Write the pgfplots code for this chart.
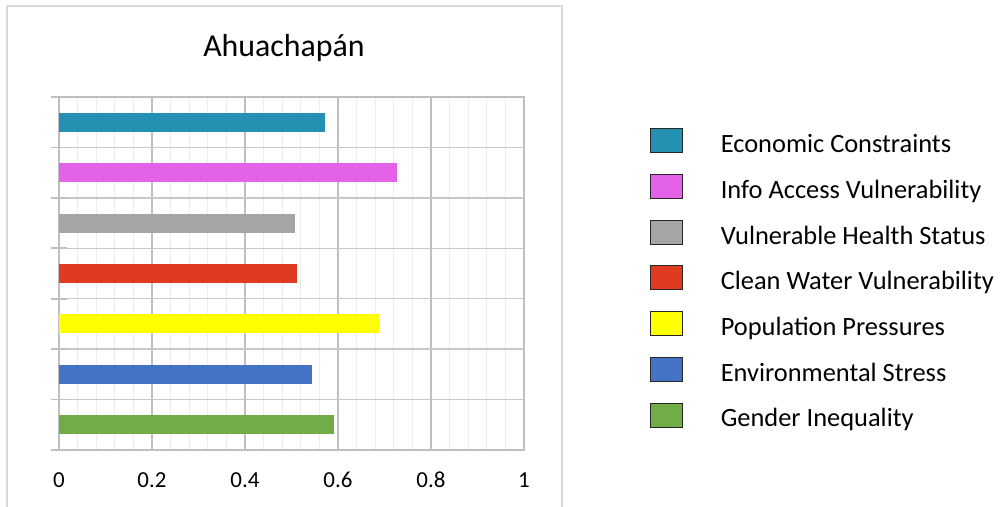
\documentclass[border=0pt]{standalone}
\usepackage{fontspec}
\setmainfont{Carlito}
\usepackage{pgfplots}
\pgfplotsset{compat=1.18}
\definecolor{cEcon}{RGB}{36,144,178}
\definecolor{cInfo}{RGB}{228,98,232}
\definecolor{cHealth}{RGB}{165,165,165}
\definecolor{cWater}{RGB}{222,59,33}
\definecolor{cPop}{RGB}{255,255,0}
\definecolor{cEnv}{RGB}{68,114,196}
\definecolor{cGender}{RGB}{112,173,71}
\definecolor{gridmaj}{RGB}{191,191,191}
\definecolor{gridh}{RGB}{200,200,200}
\definecolor{gridmin}{RGB}{236,236,236}
\definecolor{framegray}{RGB}{217,217,217}
\pgfplotsset{myleg/.style={legend image code/.code={\draw[##1,draw=black!85,line width=0.8bp] (0bp,-12bp) rectangle (32bp,12bp);}}}
\begin{document}
\begin{tikzpicture}
\useasboundingbox (0bp,0bp) rectangle (1001bp,507bp);
\draw[framegray, line width=1.3bp] (7bp,0bp) -- (7bp,501bp) -- (562bp,501bp) -- (562bp,0bp);
\node[font=\fontsize{32}{38}\selectfont, anchor=base, inner sep=0pt] at (284bp,450.3bp) {Ahuachapán};
\begin{axis}[
  at={(59bp,57bp)}, anchor=south west,
  scale only axis, width=465bp, height=353bp,
  xbar, bar width=19bp, bar shift=0pt,
  xmin=0, xmax=1, ymin=-0.5, ymax=6.5,
  xtick={0,0.2,0.4,0.6,0.8,1},
  minor x tick num=4,
  ytick={-0.5,0.5,1.5,2.5,3.5,4.5,5.5,6.5},
  yticklabels={},
  ytick pos=left,
  xmajorgrids, xminorgrids, ymajorgrids,
  major x grid style={draw=gridmaj, line width=1.6bp},
  minor x grid style={draw=gridmin, line width=1.1bp},
  major y grid style={draw=gridh, line width=1.5bp},
  axis line style={draw=gridmaj, line width=1.5bp},
  x tick style={draw=none},
  minor x tick style={draw=none},
  y tick style={draw=gridmaj, line width=1.6bp},
  tick align=center, major tick length=15bp,
  /pgf/number format/assume math mode=true,
  xticklabel style={font=\fontsize{23}{27}\selectfont, inner sep=0pt, text height=14.5bp, text depth=0pt, anchor=north, yshift=-15.5bp},
  reverse legend,
  legend cell align=left,
  legend style={at={(1.271,0.9113)}, anchor=north west, draw=none, fill=none,
    inner sep=0pt, outer sep=0pt, row sep=20.9bp, column sep=38bp,
    font=\fontsize{26.5}{30}\selectfont,
    nodes={inner sep=0pt, text height=24bp, text depth=0pt, anchor=west}},
]
\addplot[xbar, bar shift=0pt, fill=cGender, draw=none, myleg] coordinates {(0.592,0)};
\addlegendentry{Gender Inequality}
\addplot[xbar, bar shift=0pt, fill=cEnv, draw=none, myleg] coordinates {(0.545,1)};
\addlegendentry{Environmental Stress}
\addplot[xbar, bar shift=0pt, fill=cPop, draw=none, myleg] coordinates {(0.689,2)};
\addlegendentry{Population Pressures}
\addplot[xbar, bar shift=0pt, fill=cWater, draw=none, myleg] coordinates {(0.512,3)};
\addlegendentry{Clean Water Vulnerability}
\addplot[xbar, bar shift=0pt, fill=cHealth, draw=none, myleg] coordinates {(0.508,4)};
\addlegendentry{Vulnerable Health Status}
\addplot[xbar, bar shift=0pt, fill=cInfo, draw=none, myleg] coordinates {(0.727,5)};
\addlegendentry{Info Access Vulnerability}
\addplot[xbar, bar shift=0pt, fill=cEcon, draw=none, myleg] coordinates {(0.572,6)};
\addlegendentry{Economic Constraints}
\end{axis}
\end{tikzpicture}
\end{document}
